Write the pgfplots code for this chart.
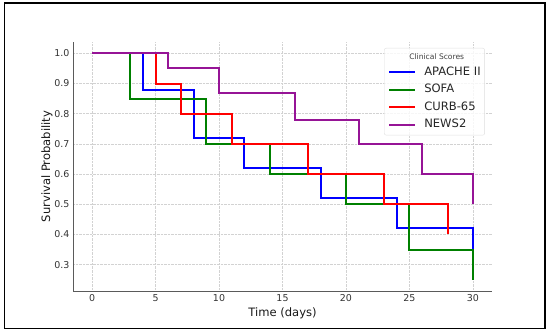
\documentclass[border=0pt]{standalone}
\usepackage{fontspec}
\setmainfont{DejaVu Sans}
\usepackage{pgfplots}
\pgfplotsset{compat=1.18}
\definecolor{mplblue}{RGB}{0,0,255}
\definecolor{mplgreen}{RGB}{0,128,0}
\definecolor{mplred}{RGB}{255,0,0}
\definecolor{mplpurple}{RGB}{150,20,150}
\definecolor{spine}{RGB}{90,90,90}
\begin{document}
\begin{tikzpicture}[x=1bp,y=1bp]
\path[use as bounding box] (0,0) rectangle (550,332);
\draw[line width=1.3bp, black] (4.5,3.5) rectangle (545,329);
\begin{axis}[
  at={(73bp,41bp)}, anchor=south west,
  scale only axis, width=419bp, height=249bp,
  xmin=-1.5, xmax=31.5, ymin=0.2125, ymax=1.0375,
  axis x line*=bottom, axis y line*=left,
  axis line style={draw=spine, line width=0.9bp},
  xtick={0,5,10,15,20,25,30},
  ytick={0.3,0.4,0.5,0.6,0.7,0.8,0.9,1.0},
  /pgf/number format/assume math mode=true,
  major tick length=0pt,
  grid=major,
  grid style={densely dotted, gray!35, line width=0.5bp},
  xticklabel style={font=\fontsize{9.5}{11}\selectfont, text=black!80},
  yticklabel style={font=\fontsize{9.5}{11}\selectfont, text=black!80,
    /pgf/number format/fixed, /pgf/number format/fixed zerofill, /pgf/number format/precision=1},
  xlabel={Time (days)}, ylabel={Survival Probability},
  every axis x label/.style={at={(axis description cs:0.5,-0.088)}, anchor=center,
    font=\fontsize{11.6}{13}\selectfont, text=black!90},
  every axis y label/.style={at={(axis description cs:-0.062,0.5)}, rotate=90, anchor=center,
    font=\fontsize{11.6}{13}\selectfont, text=black!90},
  legend image code/.code={\draw[#1, line width=2bp] (0bp,0bp) -- (26bp,0bp);},
  legend style={at={(axis description cs:0.983,0.976)}, anchor=north east,
    draw=gray!25, rounded corners=2bp, fill=white, fill opacity=0.8, text opacity=1,
    font=\fontsize{11.6}{13}\selectfont, text=black!85,
    inner xsep=4bp, inner ysep=5bp, column sep=8bp, row sep=6.5bp,
    nodes={inner sep=0pt, text height=8.5bp, text depth=2.5bp}},
  legend cell align=left,
  every axis plot/.append style={line width=2bp},
]
\addlegendimage{empty legend}
\addlegendentry[text height=6bp, text depth=1bp, font=\fontsize{7.6}{9}\selectfont, text=black!75]{\hspace*{-15bp}Clinical Scores}
\addplot[const plot, mplblue] coordinates {(0,1.0)(4,0.88)(8,0.72)(12,0.62)(18,0.52)(24,0.42)(30,0.35)};
\addlegendentry{APACHE II}
\addplot[const plot, mplgreen] coordinates {(0,1.0)(3,0.85)(9,0.70)(14,0.60)(20,0.50)(25,0.35)(30,0.25)};
\addlegendentry{SOFA}
\addplot[const plot, mplred] coordinates {(0,1.0)(5,0.90)(7,0.80)(11,0.70)(17,0.60)(23,0.50)(28,0.40)};
\addlegendentry{CURB-65}
\addplot[const plot, mplpurple] coordinates {(0,1.0)(6,0.95)(10,0.87)(16,0.78)(21,0.70)(26,0.60)(30,0.50)};
\addlegendentry{NEWS2}
\end{axis}
\end{tikzpicture}
\end{document}
